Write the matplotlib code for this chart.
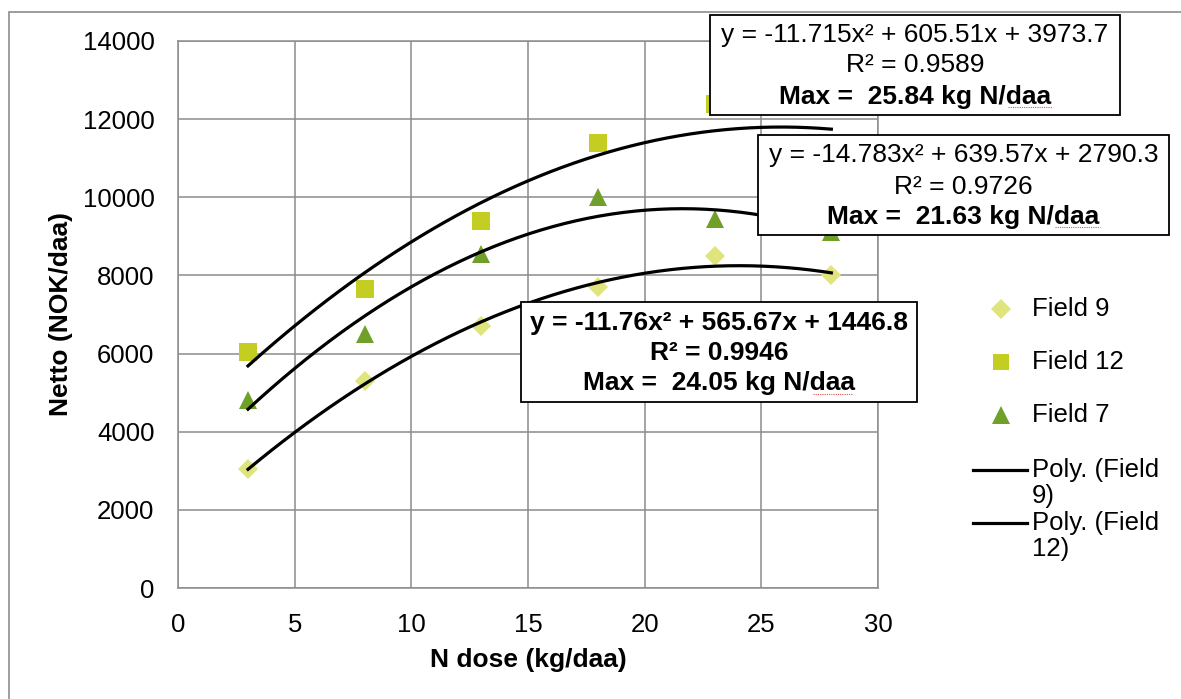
import numpy as np
import matplotlib
matplotlib.use('Agg')
import matplotlib.pyplot as plt
from matplotlib.lines import Line2D
from matplotlib.patches import Rectangle

plt.rcParams['font.family'] = ['Liberation Sans', 'DejaVu Sans']

# data
n_dose = [3, 8, 13, 18, 23, 28]
field9 = [3050, 5300, 6700, 7700, 8500, 8000]
field12 = [6050, 7650, 9400, 11400, 12400, 11250]
field7 = [4800, 6500, 8550, 10000, 9450, 9100]

# trendline coefficients as printed in the labels (a, b, c)
poly9 = [-11.76, 565.67, 1446.8]
poly12 = [-11.715, 605.51, 3973.7]
poly7 = [-14.783, 639.57, 2790.3]

x_ticks = [0, 5, 10, 15, 20, 25, 30]
y_ticks = [0, 2000, 4000, 6000, 8000, 10000, 12000, 14000]

c9 = '#e0e47c'
c12 = '#c4cd22'
c7 = '#70a02a'
grid_c = '#8c8c8c'

W, H = 1181, 699
fig = plt.figure(figsize=(W / 100, H / 100), dpi=100)


def fx(x):
    return x / W


def fy(y):
    return 1 - y / H


# outer chart frame
fig.add_artist(Rectangle((fx(9), fy(760)), fx(1300), 748 / H, transform=fig.transFigure,
                         fill=False, edgecolor=grid_c, linewidth=1.2, zorder=0))

ax = fig.add_axes([fx(178), fy(588), fx(878) - fx(178), fy(41) - fy(588)])
ax.set_xlim(0, 30)
ax.set_ylim(0, 14000)
ax.set_xticks(x_ticks)
ax.set_yticks(y_ticks)
ax.tick_params(length=0, labelsize=18.5, pad=17)
ax.tick_params(axis='x', pad=18)
ax.grid(True, color=grid_c, linewidth=1.1)
ax.set_axisbelow(True)
for s in ax.spines.values():
    s.set_color(grid_c)
    s.set_linewidth(1.1)

ax.set_xlabel('N dose (kg/daa)', fontsize=19, fontweight='bold', labelpad=8)
ax.set_ylabel('Netto (NOK/daa)', fontsize=19, fontweight='bold', labelpad=7)

ax.plot(n_dose, field9, linestyle='none', marker='D', ms=10.5, mew=0, color=c9, zorder=3)
ax.plot(n_dose, field12, linestyle='none', marker='s', ms=12.5, mew=0, color=c12, zorder=3)
ax.plot(n_dose, field7, linestyle='none', marker='^', ms=13.5, mew=0, color=c7, zorder=3)

xs = np.linspace(n_dose[0], n_dose[-1], 200)
for p in (poly9, poly12, poly7):
    ax.plot(xs, np.polyval(p, xs), color='black', linewidth=2.3, zorder=4)

# equation boxes
boxes = [
    ((710, 15, 1120, 115), ['y = -11.715x² + 605.51x + 3973.7', 'R² = 0.9589', 'Max =  25.84 kg N/daa'],
     ['normal', 'normal', 'bold'], [35, 65, 97], (1008, 1052, 107)),
    ((758, 135, 1169, 235), ['y = -14.783x² + 639.57x + 2790.3', 'R² = 0.9726', 'Max =  21.63 kg N/daa'],
     ['normal', 'normal', 'bold'], [155, 187, 217], (1055, 1100, 227)),
    ((521, 302, 917, 402), ['y = -11.76x² + 565.67x + 1446.8', 'R² = 0.9946', 'Max =  24.05 kg N/daa'],
     ['bold', 'bold', 'bold'], [323, 353, 383], (813, 853, 394)),
]
for (x0, y0, x1, y1), lines, weights, ys, (ux0, ux1, uy) in boxes:
    fig.add_artist(Rectangle((fx(x0), fy(y1)), fx(x1 - x0), (y1 - y0) / H, transform=fig.transFigure,
                             facecolor='white', edgecolor='black', linewidth=1.3, zorder=10))
    cx = (x0 + x1) / 2
    for t, w, yy in zip(lines, weights, ys):
        fig.text(fx(cx), fy(yy), t, ha='center', va='center', fontsize=19, fontweight=w, zorder=11)
    fig.add_artist(Line2D([fx(ux0), fx(ux1)], [fy(uy), fy(uy)], transform=fig.transFigure,
                          color='#e05050', linewidth=0.8, linestyle=(0, (1, 1)), zorder=11))

# legend (drawn by hand, wrapped like the original)
leg_marks = [('D', 10, c9, 'Field 9', 309), ('s', 12, c12, 'Field 12', 362), ('^', 12.5, c7, 'Field 7', 415)]
for m, ms, c, lab, yy in leg_marks:
    fig.add_artist(Line2D([fx(1001)], [fy(yy)], transform=fig.transFigure, marker=m, ms=ms, mew=0,
                          color=c, linestyle='none'))
    fig.text(fx(1032), fy(yy), lab, ha='left', va='center', fontsize=18.5)
for lab1, lab2, yy in [('Poly. (Field', '9)', 470), ('Poly. (Field', '12)', 523)]:
    fig.add_artist(Line2D([fx(973), fx(1027)], [fy(yy), fy(yy)], transform=fig.transFigure,
                          color='black', linewidth=2.3))
    fig.text(fx(1032), fy(yy), lab1, ha='left', va='center', fontsize=18.5)
    fig.text(fx(1032), fy(yy + 26), lab2, ha='left', va='center', fontsize=18.5)

fig.savefig('out.png', dpi=100)
